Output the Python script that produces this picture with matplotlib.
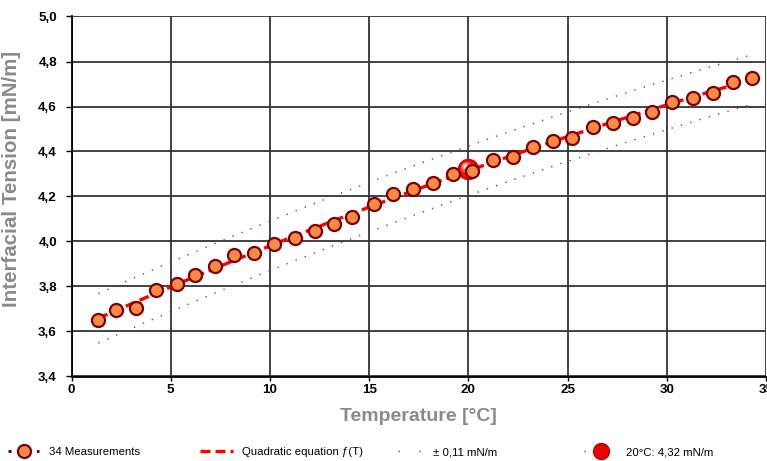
import numpy as np
import matplotlib
matplotlib.use("Agg")
import matplotlib.pyplot as plt
from matplotlib.lines import Line2D
from matplotlib.transforms import offset_copy

# ---------------- data ----------------
temperature = [1.35, 2.23, 3.24, 4.24, 5.30, 6.22, 7.23, 8.17, 9.22, 10.22,
               11.26, 12.27, 13.23, 14.15, 15.25, 16.19, 17.23, 18.24, 19.24, 20.17,
               21.26, 22.27, 23.28, 24.28, 25.21, 26.28, 27.31, 28.32, 29.24, 30.25,
               31.34, 32.32, 33.33, 34.28]
tension = [3.651, 3.696, 3.706, 3.784, 3.811, 3.850, 3.891, 3.940, 3.950, 3.989,
           4.017, 4.045, 4.078, 4.110, 4.167, 4.211, 4.232, 4.261, 4.300, 4.313,
           4.362, 4.377, 4.419, 4.445, 4.461, 4.510, 4.528, 4.550, 4.577, 4.621,
           4.636, 4.661, 4.710, 4.728]
ref_temperature = 20.0
ref_tension = 4.32
tolerance = 0.11
x_ticks = [0, 5, 10, 15, 20, 25, 30, 35]
y_ticks = [3.4, 3.6, 3.8, 4.0, 4.2, 4.4, 4.6, 4.8, 5.0]
y_tick_labels = ["3,4", "3,6", "3,8", "4,0", "4,2", "4,4", "4,6", "4,8", "5,0"]
legend_labels = ["34 Measurements", "Quadratic equation \u0192(T)",
                 "\u00b1 0,11 mN/m", "20\u00b0C: 4,32 mN/m"]

# quadratic fit of the measurements
coef = np.polyfit(temperature, tension, 2)
t_fit = np.linspace(min(temperature), max(temperature), 300)
f_fit = np.polyval(coef, t_fit)

# ---------------- figure ----------------
W, H = 767, 461
fig = plt.figure(figsize=(W / 100, H / 100), dpi=100)
plt.rcParams["font.family"] = ["Liberation Sans", "DejaVu Sans"]

ax = fig.add_axes([71.5 / W, (H - 376.5) / H, (766 - 71.5) / W, 360 / H])
ax.set_xlim(0, 35)
ax.set_ylim(3.4, 5.0)

grid_col = "#333333"
ax.set_xticks(x_ticks)
ax.set_yticks(y_ticks)
ax.set_yticklabels(y_tick_labels)
ax.grid(True, color=grid_col, lw=1.3, zorder=0)
ax.set_axisbelow(True)
for s in ["top", "right"]:
    ax.spines[s].set_visible(False)
for s in ["left", "bottom"]:
    ax.spines[s].set_color("black")
    ax.spines[s].set_linewidth(1.3)
ax.tick_params(axis="x", length=3, width=1, color="black", pad=2.5)
ax.tick_params(axis="y", length=4, width=1, color="black", pad=6.5)
for lab in ax.get_xticklabels() + ax.get_yticklabels():
    lab.set_fontweight("bold")
    lab.set_fontsize(9.6)

label_col = "#8a8a8a"
ax.set_xlabel("Temperature [\u00b0C]", fontsize=14, fontweight="bold",
              color=label_col)
ax.xaxis.set_label_coords(0.5, -0.088)
ax.set_ylabel("Interfacial Tension [mN/m]", fontsize=14.8, fontweight="bold",
              color=label_col)
ax.yaxis.set_label_coords(-0.073, 0.55)

# tolerance band
band_style = dict(color="#555555", lw=1.0, linestyle=(0, (1, 6)), zorder=2)
ax.plot(t_fit, f_fit + tolerance, **band_style)
ax.plot(t_fit, f_fit - tolerance, **band_style)

# fit line
fit_col = "#ff0000"
ax.plot(t_fit, f_fit, color=fit_col, lw=2.4, linestyle=(0, (3, 1.5)), zorder=3)

# reference sphere (20 C)
sph_layers = [(15.5, "#d80000", 0, 0), (12.5, "#f01010", -0.5, 0.5),
              (8, "#ff5050", -1.5, 1.5), (4.5, "#ffb0b0", -2.3, 2.3),
              (2, "#ffffff", -2.7, 2.7)]
for ms, col, dx, dy in sph_layers:
    tr = offset_copy(ax.transData, fig=fig, x=dx, y=dy, units="points")
    ax.plot([ref_temperature], [ref_tension], "o", ms=ms, color=col, mec="none",
            transform=tr, zorder=4)

# measurements
m_face = "#fb8a48"
m_edge = "#7a0000"
ax.plot(temperature, tension, "o", ms=9.4, mfc=m_face, mec=m_edge, mew=1.6,
        zorder=5, linestyle="none")

# ---------------- legend ----------------
fs = 8.2
fs_px = fs * 100 / 72
y_leg = (H - 452) / H

h1 = Line2D([], [], color=m_edge, lw=2.2, linestyle=(0, (1, 8.3)), marker="o",
            ms=9.4, mfc=m_face, mec=m_edge, mew=1.6)
h2 = Line2D([], [], color=fit_col, lw=2.4, linestyle=(0, (3, 1.5)))
h3 = Line2D([], [], color="#555555", lw=1.0, linestyle=(0, (1, 14)))
h4 = Line2D([], [], color="#555555", lw=1.0, linestyle=(0, (1, 40)),
            marker="o", ms=11.5, mfc="#e80000", mec="#c00000")

items = [(h1, legend_labels[0], 8, 31, 10),
         (h2, legend_labels[1], 200, 33, 9),
         (h3, legend_labels[2], 398, 24, 11),
         (h4, legend_labels[3], 584, 33, 9)]
for h, lab, x0, hl, tp in items:
    leg = fig.legend(handles=[h], labels=[lab], loc="center left",
                     bbox_to_anchor=(x0 / W, y_leg), bbox_transform=fig.transFigure,
                     frameon=False, fontsize=fs, handlelength=hl / fs_px,
                     handletextpad=tp / fs_px, borderpad=0, borderaxespad=0,
                     numpoints=1)

fig.savefig("out.png", dpi=100)
